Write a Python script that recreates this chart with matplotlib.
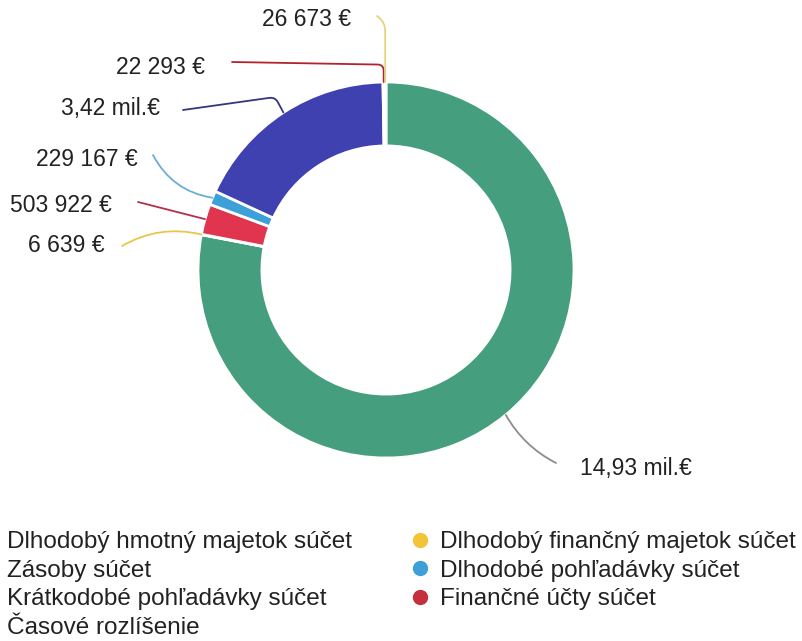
import matplotlib
matplotlib.use("Agg")
import matplotlib.pyplot as plt
from matplotlib.lines import Line2D
from matplotlib.patches import FancyArrowPatch
import numpy as np

plt.rcParams['font.family'] = ['Liberation Sans', 'DejaVu Sans']

# data (clockwise from 12 o'clock)
categories = ["Dlhodobý hmotný majetok súčet", "Dlhodobý finančný majetok súčet",
              "Zásoby súčet", "Dlhodobé pohľadávky súčet",
              "Krátkodobé pohľadávky súčet", "Finančné účty súčet",
              "Časové rozlíšenie"]
values = [14930000, 6639, 503922, 229167, 3420000, 22293, 26673]
value_labels = ["14,93 mil.€", "6 639 €", "503 922 €", "229 167 €",
                "3,42 mil.€", "22 293 €", "26 673 €"]

colors = ["#459e7d", "#f3c338", "#e0344f", "#3ea0d8", "#3f41b0", "#c62f3c", "#f1c84a"]
line_colors = ["#8c8c8c", "#e9c64a", "#b5304a", "#6aaed6", "#34367e", "#b3222f", "#e6d47a"]
# legend shows markers only for the right-hand column
legend_marker = [False, True, False, True, False, True, False]

# layout in pixel coords (y down)
cx, cy, R, ring = 386, 270, 188, 0.34
text_pos = [(580, 468, 'left'), (105, 246, 'right'), (112, 206, 'right'),
            (138, 160, 'right'), (160, 108, 'right'), (205, 68, 'right'),
            (351, 20, 'right')]
line_end = [(556, 463), (122, 246), (138, 202), (153, 155), (183, 110),
            (232, 62), (377, 16)]
conn = ["arc3,rad=-0.15", "arc3,rad=-0.2", "arc3,rad=0.0", "arc3,rad=0.25",
        "angle,angleA=8,angleB=118,rad=6", "angle,angleA=-1,angleB=90,rad=6",
        "angle,angleA=-40,angleB=90,rad=8"]

fig = plt.figure(figsize=(8.03, 6.41), dpi=100)
ax = fig.add_axes([0, 0, 1, 1])

wedges, _ = ax.pie(values, colors=colors, startangle=-90, counterclock=True,
                   center=(cx, cy), radius=R,
                   wedgeprops=dict(width=R * ring, edgecolor='white', linewidth=2))
ax.set_aspect('equal')
ax.set_xlim(0, 803)
ax.set_ylim(641, 0)
ax.axis('off')

for i, w in enumerate(wedges):
    mid = np.deg2rad((w.theta1 + w.theta2) / 2)
    ax_x = cx + R * np.cos(mid)
    ax_y = cy + R * np.sin(mid)
    tx, ty, ha = text_pos[i]
    ax.text(tx, ty, value_labels[i], ha=ha, va='center', fontsize=16.5, color='#222222')
    p = FancyArrowPatch(line_end[i], (ax_x, ax_y), arrowstyle='-',
                        connectionstyle=conn[i], color=line_colors[i], lw=1.3,
                        shrinkA=0, shrinkB=0)
    ax.add_patch(p)

handles = []
for i, c in enumerate(categories):
    if legend_marker[i]:
        h = Line2D([], [], marker='o', linestyle='none', markersize=10,
                   markerfacecolor=colors[i], markeredgecolor=colors[i])
    else:
        h = Line2D([], [], marker='o', linestyle='none', markersize=10,
                   markerfacecolor='none', markeredgecolor='none')
    handles.append(h)

order = [0, 2, 4, 6, 1, 3, 5]
ax.legend([handles[i] for i in order], [categories[i] for i in order],
          loc='upper left', bbox_to_anchor=(-22, 531), bbox_transform=ax.transData,
          ncol=2, frameon=False, fontsize=17.5, handlelength=0.8, handletextpad=0.4,
          columnspacing=2.4, labelspacing=0.27, borderpad=0, borderaxespad=0,
          labelcolor='#222222')

fig.savefig("out.png", dpi=100, facecolor='white')
